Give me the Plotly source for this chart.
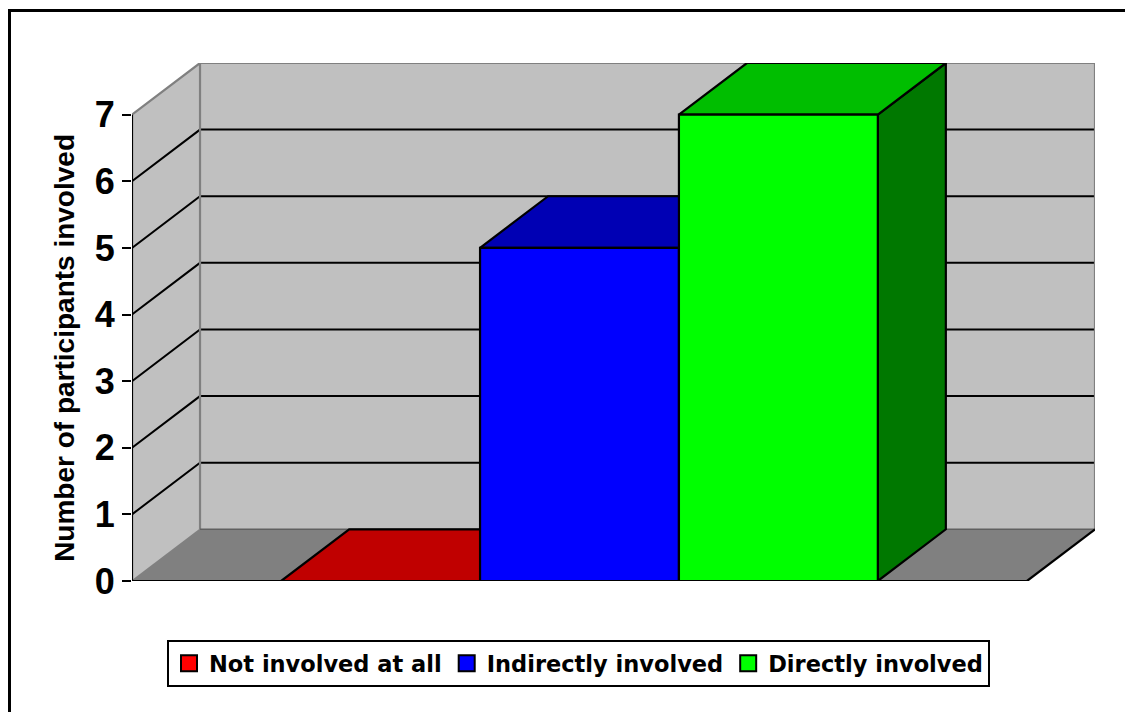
import plotly.graph_objects as go

# ---- data ----
categories = ["Not involved at all", "Indirectly involved", "Directly involved"]
values = [0, 5, 7]
y_ticks = [0, 1, 2, 3, 4, 5, 6, 7]
y_tick_labels = ["0", "1", "2", "3", "4", "5", "6", "7"]
y_title = "Number of participants involved"

# ---- styles ----
front_colors = ["#FF0000", "#0000FF", "#00FF00"]
top_colors = ["#C00000", "#0000B4", "#00BE00"]
side_colors = ["#800000", "#000080", "#007800"]
WALL = "#C0C0C0"
FLOOR = "#808080"
EDGE = "#808080"

W, H = 1125, 712
ML, MR, MT, MB = 132, 30, 63, 131

Y_MAX = y_ticks[-1]
DX = 0.342   # depth offset (x units)
DY = 0.776   # depth offset (y units)
GAP = 0.75
BAR_W = 1.0
X_END = 2 * GAP + BAR_W * len(values)

fig = go.Figure()


def poly(xs, ys, fill, line_color="black", lw=2.2):
    fig.add_trace(go.Scatter(
        x=xs + [xs[0]], y=ys + [ys[0]], mode="lines", fill="toself",
        fillcolor=fill, line=dict(color=line_color, width=lw),
        hoverinfo="skip", showlegend=False))


def lines(xs, ys, color, lw):
    fig.add_trace(go.Scatter(x=xs, y=ys, mode="lines",
                             line=dict(color=color, width=lw),
                             hoverinfo="skip", showlegend=False))


# walls and floor
poly([0, DX, DX, 0], [0, DY, Y_MAX + DY, Y_MAX], WALL, WALL, 0)
poly([DX, X_END + DX, X_END + DX, DX], [DY, DY, Y_MAX + DY, Y_MAX + DY], WALL, WALL, 0)
poly([0, DX, X_END + DX, X_END], [0, DY, DY, 0], FLOOR, FLOOR, 0)

# gridlines (side wall diagonals + back wall horizontals)
gx, gy = [], []
for v in y_ticks[1:-1]:
    gx += [0, DX, X_END + DX, None]
    gy += [v, v + DY, v + DY, None]
lines(gx, gy, "black", 2)

# wall edges
lines([0, DX, X_END + DX, X_END + DX], [Y_MAX, Y_MAX + DY, Y_MAX + DY, DY], EDGE, 2.2)
lines([DX, DX], [DY, Y_MAX + DY], EDGE, 2.2)
lines([0, DX], [0, DY], EDGE, 1.5)
lines([DX, X_END + DX], [DY, DY], "#606060", 1.5)
lines([X_END, X_END + DX], [0, DY], "black", 2.2)

# axis lines
lines([0, 0], [0, Y_MAX], "black", 2.2)
lines([0, X_END], [0, 0], "black", 2.2)

# bars
for i, v in enumerate(values):
    x0 = GAP + i * BAR_W
    x1 = x0 + BAR_W
    poly([x1, x1 + DX, x1 + DX, x1], [0, DY, v + DY, v], side_colors[i])
    poly([x0, x0 + DX, x1 + DX, x1], [v, v + DY, v + DY, v], top_colors[i])
    if v > 0:
        poly([x0, x1, x1, x0], [0, 0, v, v], front_colors[i])
    else:
        lines([x0, x1], [0, 0], "black", 2.2)

# legend entries
for i, c in enumerate(categories):
    fig.add_trace(go.Scatter(
        x=[None], y=[None], mode="markers", name=c,
        marker=dict(symbol="square", size=16, color=front_colors[i],
                    line=dict(color="black", width=2))))

pw = W - ML - MR
ph = H - MT - MB


def px_x(p):
    return (p - ML) / pw


def px_y(p):
    return (H - MB - p) / ph


fig.add_annotation(
    text="<b>" + y_title + "</b>", textangle=-90, xref="paper", yref="y",
    x=px_x(65), y=Y_MAX / 2, xanchor="center", yanchor="middle",
    showarrow=False,
    font=dict(family="Liberation Sans, Arial", size=28, color="black"))

fig.add_shape(type="rect", xref="paper", yref="paper",
              x0=px_x(9.5), x1=px_x(1140), y0=px_y(730), y1=px_y(10.5),
              line=dict(color="black", width=3), fillcolor="rgba(0,0,0,0)",
              layer="above")

fig.update_layout(
    width=W, height=H,
    margin=dict(l=ML, r=MR, t=MT, b=MB),
    paper_bgcolor="white", plot_bgcolor="white",
    xaxis=dict(range=[0, X_END + DX], visible=False, fixedrange=True),
    yaxis=dict(range=[0, Y_MAX + DY], tickvals=y_ticks, ticktext=y_tick_labels,
               ticks="outside", ticklen=9, tickwidth=2, tickcolor="black",
               showgrid=False, zeroline=False, showline=False,
               tickfont=dict(family="Liberation Sans, Arial", size=36,
                             color="black", weight="bold")),
    showlegend=True,
    legend=dict(orientation="h", x=px_x(578.5), xanchor="center",
                y=px_y(640), yanchor="top",
                bgcolor="white", bordercolor="black", borderwidth=2,
                font=dict(family="DejaVu Sans", size=22.5, color="black",
                          weight="bold"),
                itemclick=False, itemdoubleclick=False),
)

fig.write_html("out.html")
